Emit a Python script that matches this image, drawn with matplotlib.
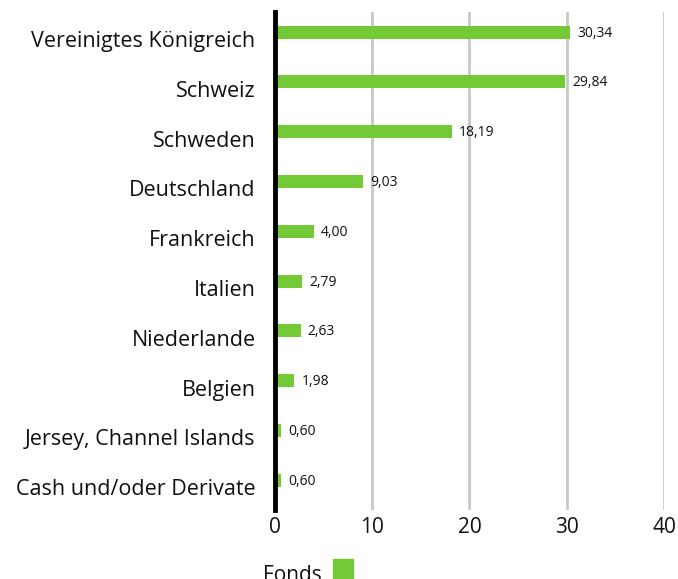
import matplotlib
matplotlib.use("Agg")
import matplotlib.pyplot as plt
import matplotlib.transforms as mtransforms
from matplotlib.patches import Rectangle

countries = ["Vereinigtes Königreich", "Schweiz", "Schweden", "Deutschland",
             "Frankreich", "Italien", "Niederlande", "Belgien",
             "Jersey, Channel Islands", "Cash und/oder Derivate"]
fonds = [30.34, 29.84, 18.19, 9.03, 4.00, 2.79, 2.63, 1.98, 0.60, 0.60]
xticks = [0, 10, 20, 30, 40]

green = "#74c936"
fontname = "Open Sans"

fig = plt.figure(figsize=(6.78, 5.79), dpi=100)
ax = fig.add_axes([0.4056, 0.119, 0.5737, 0.86])

pos = list(range(len(countries)))
ax.barh(pos, fonds, height=0.26, color=green, zorder=3)
for p, v in zip(pos, fonds):
    ax.text(v + 0.75, p + 0.02, ("%.2f" % v).replace(".", ","), va="center", ha="left",
            fontsize=10, fontname=fontname, color="#111111")

ax.set_xlim(0, 40)
ax.set_ylim(9.6, -0.4)
ax.set_yticks(pos)
ax.set_yticklabels(countries, fontsize=15.5, fontname=fontname, color="#111111")
ax.set_xticks(xticks)
ax.set_xticklabels([str(t) for t in xticks], fontsize=15, fontname=fontname, color="#111111")
ax.tick_params(axis="both", length=0)
ax.tick_params(axis="y", pad=14)
ax.tick_params(axis="x", pad=5)

# labels sit a little below the bar centres
shift = mtransforms.ScaledTranslation(0, -7 / 100, fig.dpi_scale_trans)
for lab in ax.get_yticklabels():
    lab.set_transform(lab.get_transform() + shift)

ax.grid(axis="x", color="#c8c8c8", linewidth=2, zorder=0)
for s in ["top", "right", "bottom"]:
    ax.spines[s].set_visible(False)
ax.spines["left"].set_linewidth(3.5)
ax.spines["left"].set_color("black")
ax.spines["left"].set_zorder(4)

# legend at the bottom
fig.text(263 / 678, 1 - 581 / 579, "Fonds", fontsize=15, fontname=fontname,
         ha="left", va="baseline", color="#111111")
fig.patches.append(Rectangle((333 / 678, 0), 20 / 678, 20 / 579,
                             transform=fig.transFigure, color=green))

fig.savefig("out.png", dpi=100)
